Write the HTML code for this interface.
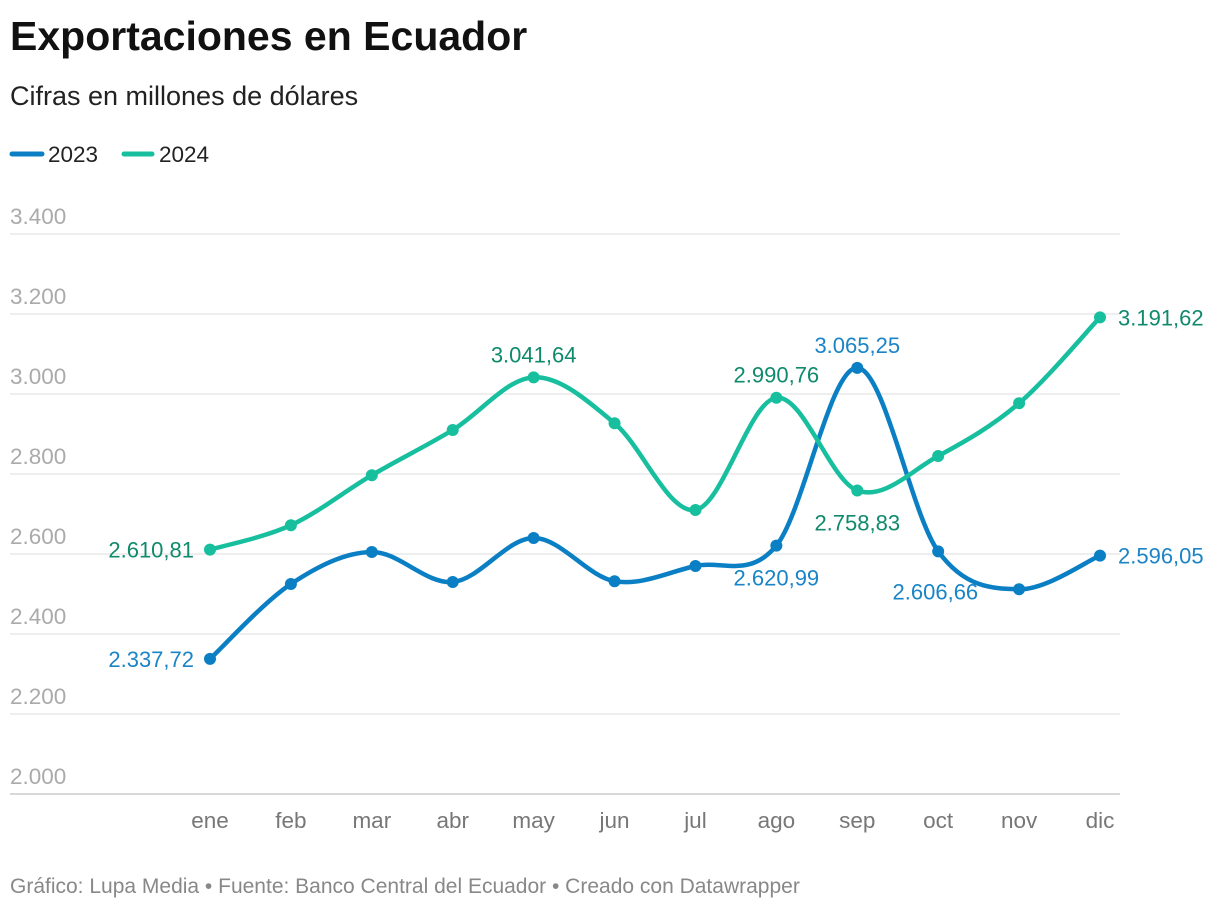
<!DOCTYPE html>
<html><head><meta charset="utf-8">
<style>
body{margin:0;background:#fff;font-family:"Liberation Sans",Roboto,sans-serif;}
svg text{font-family:"Liberation Sans",sans-serif;}
</style></head>
<body>
<svg width="1220" height="910">
<text x="10" y="50" font-size="41" font-weight="bold" fill="#111">Exportaciones en Ecuador</text>
<text x="10" y="105" font-size="27" fill="#222">Cifras en millones de dólares</text>
<g>
<line x1="12" y1="154" x2="42" y2="154" stroke="#0b7fc4" stroke-width="5" stroke-linecap="round"/>
<text x="48" y="162" font-size="22.5" fill="#222">2023</text>
<line x1="124" y1="154" x2="152" y2="154" stroke="#17bf9e" stroke-width="5" stroke-linecap="round"/>
<text x="159" y="162" font-size="22.5" fill="#222">2024</text>
</g>
<g id="grid"></g>
<g id="series"></g>
<text x="10" y="893" font-size="21" fill="#888">Gráfico: Lupa Media • Fuente: Banco Central del Ecuador • Creado con Datawrapper</text>
</svg>
<script>
const months=["ene","feb","mar","abr","may","jun","jul","ago","sep","oct","nov","dic"];
const ticks=[2000,2200,2400,2600,2800,3000,3200,3400];
const tickLabels=["2.000","2.200","2.400","2.600","2.800","3.000","3.200","3.400"];
const v2023=[2337.72,2525,2605,2530,2640,2532,2570,2620.99,3065.25,2606.66,2512,2596.05];
const v2024=[2610.81,2672,2797,2910,3041.64,2927,2710,2990.76,2758.83,2845,2977,3191.62];
const NS="http://www.w3.org/2000/svg";
function x(i){return 210+i*(890/11);}
function y(v){return 794-(v-2000)*0.4;}
function el(t,a,p){const e=document.createElementNS(NS,t);for(const k in a)e.setAttribute(k,a[k]);p.appendChild(e);return e;}
const grid=document.getElementById('grid'),ser=document.getElementById('series');
ticks.forEach((t,i)=>{
 const l=el('line',{x1:10,x2:1120,y1:y(t),y2:y(t),stroke:i==0?'#ccc':'#e3e3e3','stroke-width':i==0?1.5:1.2},grid);
 
 
 const tx=el('text',{x:10,y:y(t)-10,'font-size':22.5,fill:'#aaa'},grid);tx.textContent=tickLabels[i];
 
 
});
months.forEach((m,i)=>{
 const tx=el('text',{x:x(i),y:828,'font-size':22.5,fill:'#777','text-anchor':'middle'},grid);tx.textContent=m;
 
 
});
function path(vals){
 const p=vals.map((v,i)=>[x(i),y(v)]);let d='M'+p[0][0]+','+p[0][1];
 for(let i=0;i<p.length-1;i++){const p0=p[Math.max(0,i-1)],p1=p[i],p2=p[i+1],p3=p[Math.min(p.length-1,i+2)];
  const c1=[p1[0]+(p2[0]-p0[0])/6,p1[1]+(p2[1]-p0[1])/6],c2=[p2[0]-(p3[0]-p1[0])/6,p2[1]-(p3[1]-p1[1])/6];
  d+=' C'+c1+' '+c2+' '+p2;}
 return d;}
function fmt(v){const s=v.toFixed(2).split('.');return s[0].replace(/\B(?=(\d{3})+$)/g,'.')+','+s[1];}
function series(vals,col,lcol,name,labels){
 const g=el('g',{},ser);
 
 
 const p=el('path',{d:path(vals),fill:'none',stroke:col,'stroke-width':4.5},g);
 
 
 vals.forEach((v,i)=>{const c=el('circle',{cx:x(i),cy:y(v),r:6,fill:col},g);
  
  });
 labels.forEach(([i,pos])=>{
  let a={x:x(i),y:y(vals[i]),'font-size':22,fill:lcol};
  if(pos=='l'){a.x-=16;a.y+=8;a['text-anchor']='end';}
  else if(pos=='r'){a.x+=18;a.y+=8;}
  else if(pos=='t'){a.y-=15;a['text-anchor']='middle';}
  else if(pos=='b'){a.y+=40;a['text-anchor']='middle';}
  else if(pos=='bl'){a.x+=40;a.y+=48;a['text-anchor']='end';}
  const t=el('text',a,g);t.textContent=fmt(vals[i]);
  
  });
}
series(v2023,'#0b7fc4','#1a84c6','2023',[[0,'l'],[7,'b'],[8,'t'],[9,'bl'],[11,'r']]);
series(v2024,'#17bf9e','#0f8a6c','2024',[[0,'l'],[4,'t'],[7,'t'],[8,'b'],[11,'r']]);
</script>
</body></html>
